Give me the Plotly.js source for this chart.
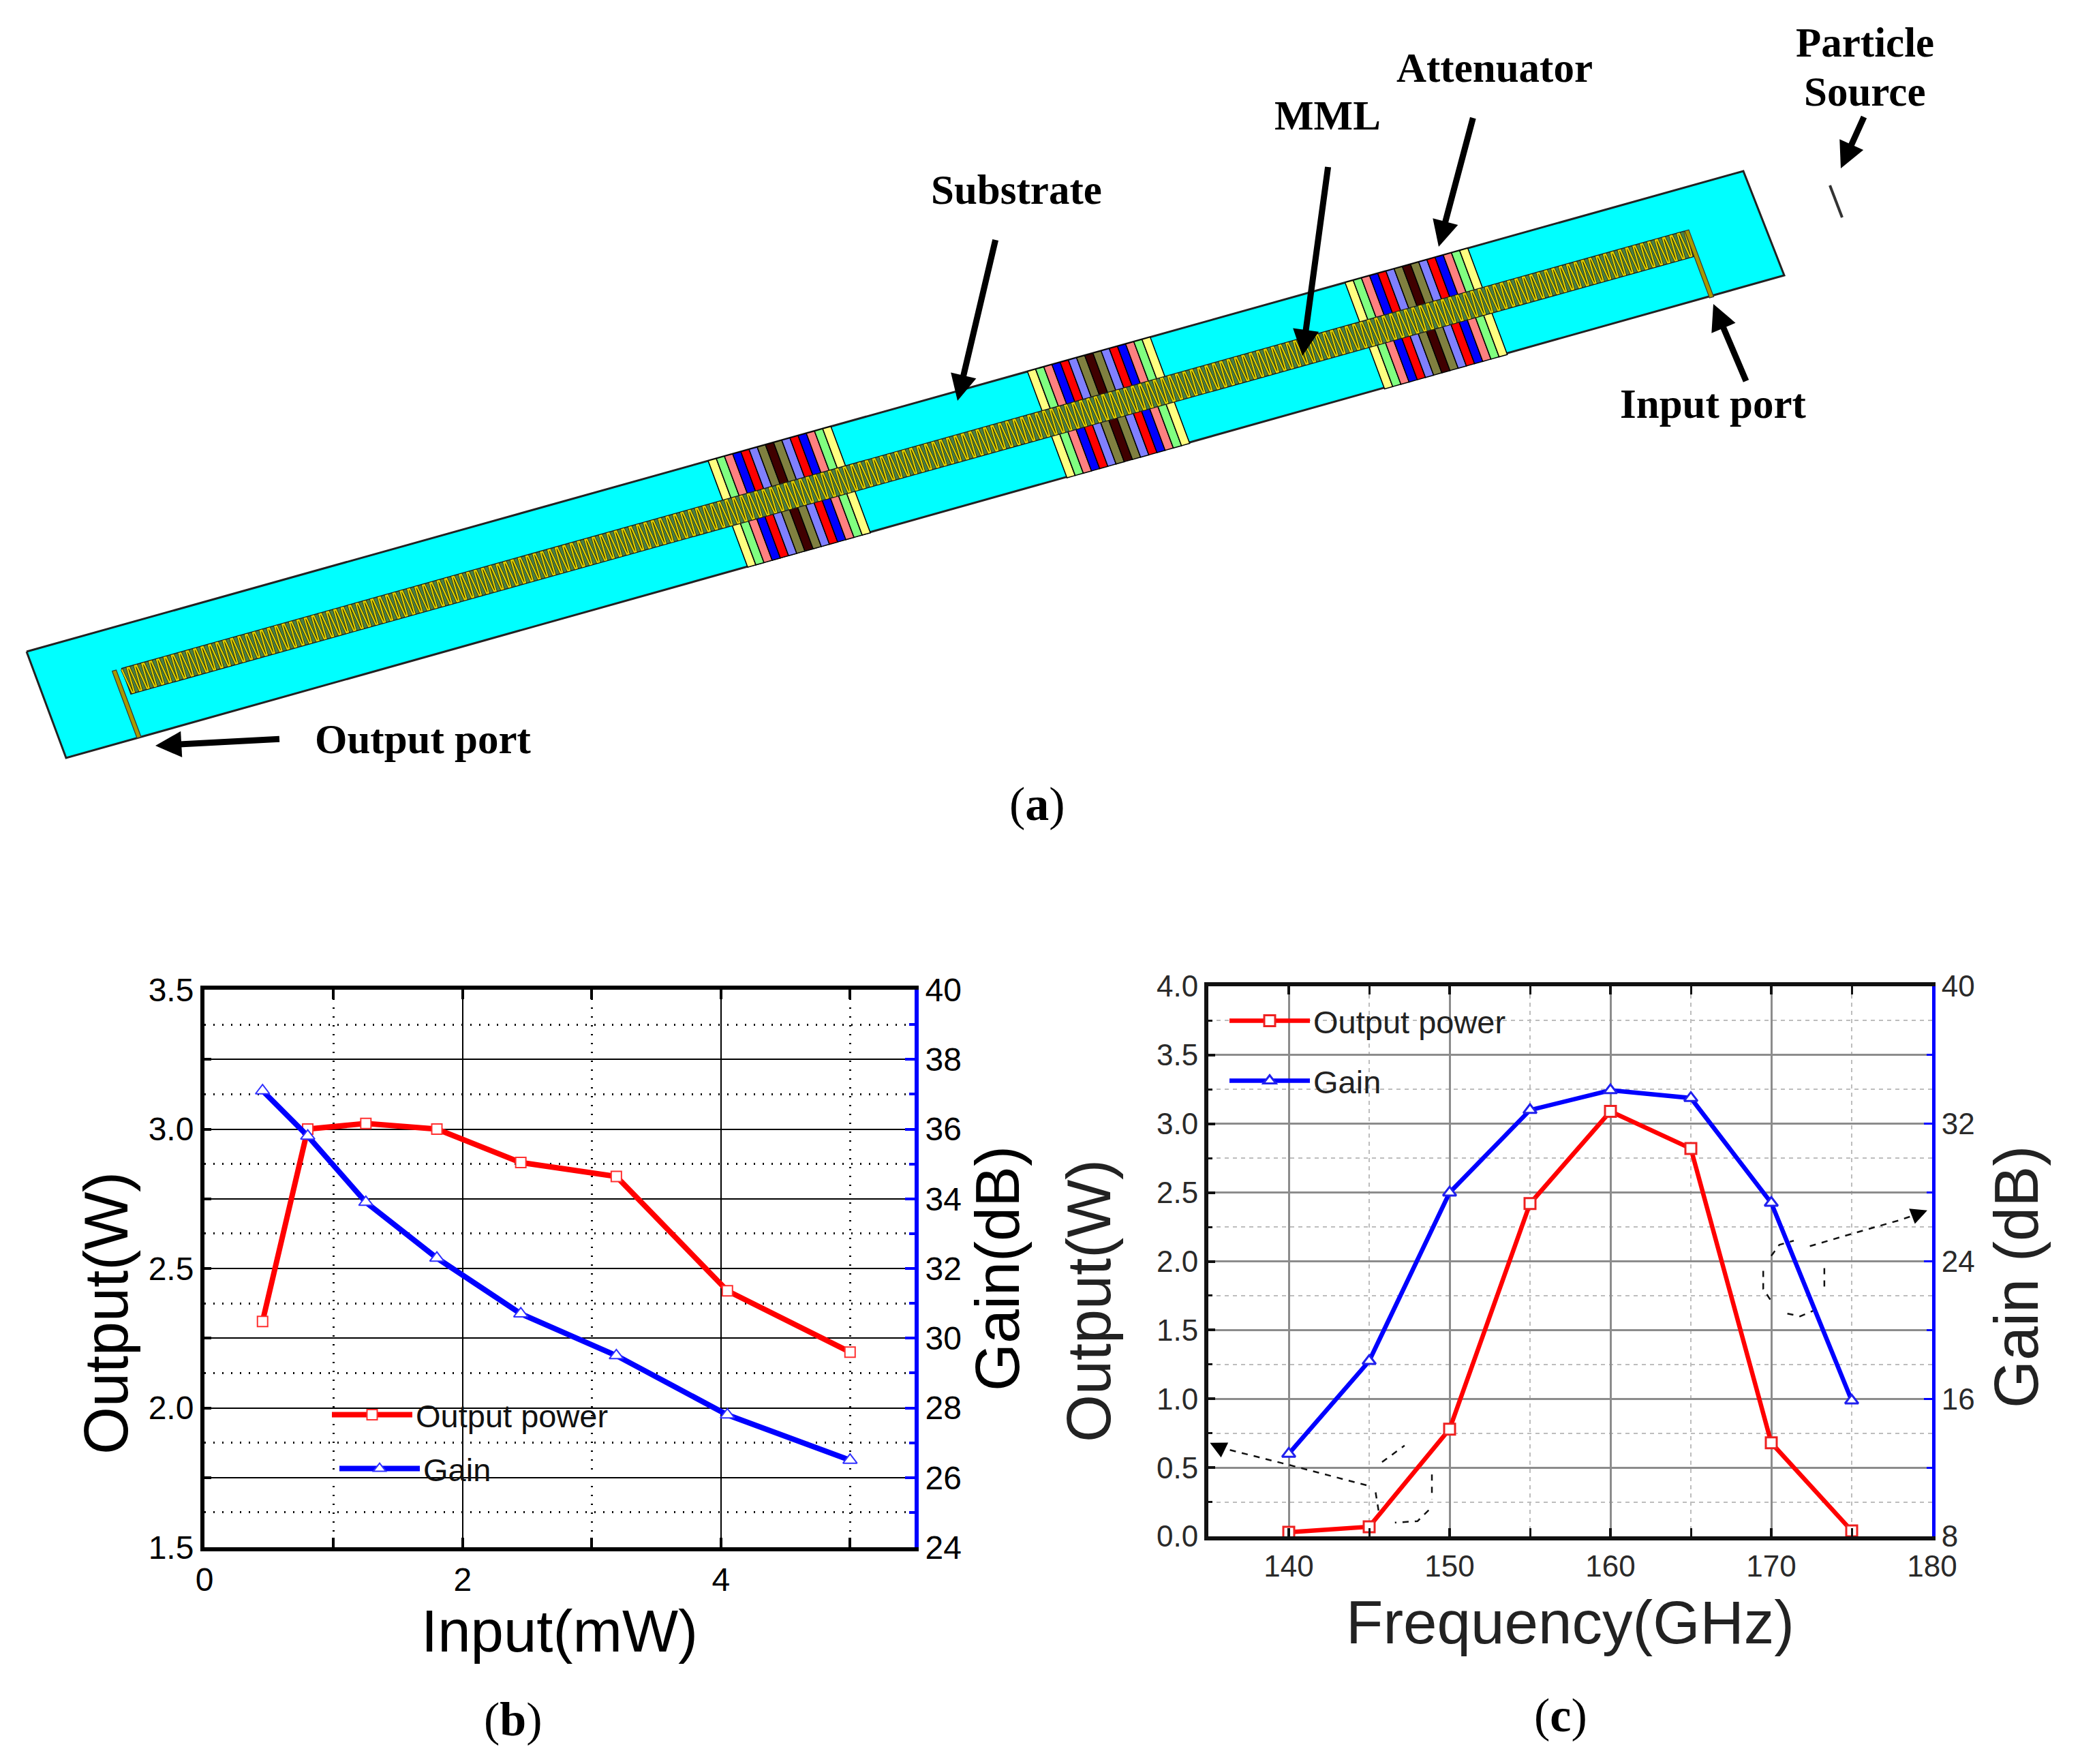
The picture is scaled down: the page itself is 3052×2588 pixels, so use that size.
<!DOCTYPE html>
<html><head><meta charset="utf-8">
<script src="https://cdn.plot.ly/plotly-3.0.1.min.js"></script>
<style>html,body{margin:0;padding:0;background:#fff}</style></head>
<body><div id="chart" style="width:3052px;height:2588px"></div>
<script>
// ---- panel (b) data
const inputMw    = [0.45,0.80,1.25,1.80,2.45,3.19,4.05,5.00];
const bOutput    = [2.31,3.00,3.02,3.00,2.88,2.83,2.42,2.20];
const bGain      = [37.1,35.8,33.9,32.3,30.7,29.5,27.8,26.5];
// ---- panel (c) data
const freqGHz    = [140,145,150,155,160,165,170,175];
const cOutput    = [0.03,0.07,0.78,2.42,3.09,2.82,0.68,0.04];
const cGain      = [12.8,18.2,28.0,32.8,33.95,33.5,27.4,15.9];
// ---- tick labels
const bYTicks    = [1.5,1.75,2,2.25,2.5,2.75,3,3.25,3.5];
const bYText     = ['1.5','','2.0','','2.5','','3.0','','3.5'];
const bYMinor    = [1.625,1.875,2.125,2.375,2.625,2.875,3.125,3.375];
const cYTicks    = [0,0.5,1,1.5,2,2.5,3,3.5,4];
const cYText     = ['0.0','0.5','1.0','1.5','2.0','2.5','3.0','3.5','4.0'];
const cYMinor    = [0.25,0.75,1.25,1.75,2.25,2.75,3.25,3.75];
// ---- dashed callouts of panel (c), in axis units
const cLeftCalloutX  = [135.6,140,145.2];
const cLeftCalloutY  = [0.65,0.52,0.36];
const cLoopAX = [145.8,147.2];
const cLoopAY = [0.54,0.66];
const cLoopA2X = [145.4,145.6];
const cLoopA2Y = [0.32,0.175];
const cLoopBX = [148.9,148.9];
const cLoopBY = [0.45,0.27];
const cLoopCX = [148.7,148.0,146.6];
const cLoopCY = [0.19,0.11,0.10];
const cRightCalloutX = [172.4,175,178,179.0];
const cRightCalloutY = [2.11,2.2,2.3,2.34];
const cLoopDX = [170,170.5,171.4];
const cLoopDY = [2.04,2.12,2.15];
const cLoopEX = [169.5,169.5,170];
const cLoopEY = [1.93,1.8,1.71];
const cLoopFX = [171,171.8,172.6];
const cLoopFY = [1.62,1.6,1.64];
const cLoopGX = [173.3,173.3];
const cLoopGY = [1.95,1.78];
// ---- schematic (a), in page pixels
const substrateX = [39,2558,2618,97];
const substrateY = [956,251,404,1112];
const stripS = [0.0467,0.957];
const stripT = [0.37,0.61];
const portS  = [0.0425,0.9585];
const attenuatorStarts = [0.397,0.583,0.768];
const attenuatorSpan = 0.0715;
const stripeColors = ['#ffff80','#80ff80','#ff8080','#0000ff','#ff0000','#8080ff','#808040','#400000','#808040','#8080ff','#ff0000','#0000ff','#ff8080','#80ff80','#ffff80'];
const particleX = [2685,2703];
const particleY = [272,319];
const labels  = ['Substrate','MML','Attenuator','Particle','Source','Input port','Output port'];
const labelX  = [1491,1948,2193,2736,2736,2514,621];
const labelY  = [278,169,99,62,134,592,1084];
const arrowFromX = [1463,1950,2164,2738,2565,413];
const arrowFromY = [342,235,163,165,566,1084];
const arrowToX   = [1405,1911,2111,2701,2514,228];
const arrowToY   = [588,522,362,247,446,1094];
const panelTags  = ['a','b','c'];
const panelX = [1522,753,2290];
const panelY = [1179,2522,2516];

const W=3052,H=2588;
const px=(a,b)=>[a/W,b/W], py=(top,bot)=>[1-bot/H,1-top/H];
function pt(s,t){return [substrateX[0]+s*(substrateX[1]-substrateX[0])+t*(substrateX[3]-substrateX[0]),
                         substrateY[0]+s*(substrateY[1]-substrateY[0])+t*(substrateY[3]-substrateY[0])];}
function quad(s0,s1,t0,t1){const c=[pt(s0,t0),pt(s1,t0),pt(s1,t1),pt(s0,t1),pt(s0,t0)];return {x:c.map(p=>p[0]),y:c.map(p=>p[1])};}
const traces=[];
function page(o){return Object.assign({xaxis:'x3',yaxis:'y5',showlegend:false,hoverinfo:'skip'},o);}
function fillQuad(q,color,lw,lc){traces.push(page({x:q.x,y:q.y,mode:'lines',fill:'toself',fillcolor:color,line:{color:lc||'#000',width:lw}}));}
// substrate
fillQuad({x:substrateX.concat(substrateX[0]),y:substrateY.concat(substrateY[0])},'#00ffff',3,'#222');
// attenuators
attenuatorStarts.forEach(s0=>{const w=attenuatorSpan/stripeColors.length;
  stripeColors.forEach((c,i)=>fillQuad(quad(s0+i*w,s0+(i+1)*w,0,1),c,1.5));});
// strip under the meander
fillQuad(quad(stripS[0],stripS[1],stripT[0],stripT[1]),'#4a8048',1.5,'#222');
// meander hatch (repeating pattern of the slow-wave line)
const meanderX=[],meanderY=[];
const turnStep=0.00215;
for(let i=0,s=stripS[0];s<stripS[1];i++,s+=turnStep){
  const a=pt(s,i%2?stripT[1]-0.01:stripT[0]+0.01),b=pt(s+turnStep*0.5,i%2?stripT[0]+0.01:stripT[1]-0.01);
  meanderX.push(a[0],b[0]);meanderY.push(a[1],b[1]);
}
traces.push(page({x:meanderX,y:meanderY,mode:'lines',line:{color:'#141400',width:3.6}}));
traces.push(page({x:meanderX,y:meanderY,mode:'lines',line:{color:'#dccc00',width:2.4}}));
// port feed lines
[portS[0],portS[1]].forEach(s=>{fillQuad(quad(s-0.0012,s+0.0012,stripT[0],1),'#a89a00',1.2,'#333');});
// particle source
traces.push(page({x:particleX,y:particleY,mode:'lines',line:{color:'#333',width:4}}));

// panel (b)
traces.push({x:inputMw,y:bOutput,name:'Output power',xaxis:'x',yaxis:'y',legend:'legend',mode:'lines+markers',
  line:{color:'#ff0000',width:8},marker:{symbol:'square',size:15,color:'#fff',line:{color:'#ff3030',width:2}}});
traces.push({x:inputMw,y:bGain,name:'Gain',xaxis:'x',yaxis:'y2',legend:'legend2',mode:'lines+markers',
  line:{color:'#0000ff',width:8},marker:{symbol:'triangle-up',size:18,color:'#fff',line:{color:'#3030ff',width:2}}});
// panel (c) callouts
const dashed={color:'#111',width:2.5,dash:'9px,9px'};
[[cLeftCalloutX,cLeftCalloutY],[cLoopAX,cLoopAY],[cLoopA2X,cLoopA2Y],[cLoopBX,cLoopBY],[cLoopCX,cLoopCY],[cRightCalloutX,cRightCalloutY],
 [cLoopDX,cLoopDY],[cLoopEX,cLoopEY],[cLoopFX,cLoopFY],[cLoopGX,cLoopGY]].forEach(a=>{
  traces.push({x:a[0],y:a[1],xaxis:'x2',yaxis:'y3',mode:'lines',line:dashed,showlegend:false,hoverinfo:'skip'});
});
// panel (c)
traces.push({x:freqGHz,y:cOutput,name:'Output power',xaxis:'x2',yaxis:'y3',legend:'legend3',mode:'lines+markers',
  line:{color:'#ff0000',width:6.5},marker:{symbol:'square',size:16,color:'#fff',line:{color:'#ee2020',width:3}}});
traces.push({x:freqGHz,y:cGain,name:'Gain',xaxis:'x2',yaxis:'y4',legend:'legend4',mode:'lines+markers',
  line:{color:'#0000ff',width:6.5},marker:{symbol:'triangle-up',size:17,color:'#fff',line:{color:'#2020ee',width:3}}});

const sans='"Liberation Sans", Arial, sans-serif', serif='"Liberation Serif", "Times New Roman", serif';
const annos=[];
labels.forEach((t,i)=>annos.push({xref:'x3',yref:'y5',x:labelX[i],y:labelY[i],text:'<b>'+t+'</b>',showarrow:false,
  xanchor:'center',yanchor:'middle',font:{family:serif,size:61,color:'#000'}}));
arrowToX.forEach((x,i)=>annos.push({xref:'x3',yref:'y5',axref:'x3',ayref:'y5',x:x,y:arrowToY[i],ax:arrowFromX[i],ay:arrowFromY[i],
  text:' ',showarrow:true,arrowhead:2,arrowsize:0.85,arrowwidth:9,arrowcolor:'#000'}));
panelTags.forEach((t,i)=>annos.push({xref:'x3',yref:'y5',x:panelX[i],y:panelY[i],text:'(<b>'+t+'</b>)',showarrow:false,
  xanchor:'center',yanchor:'middle',font:{family:serif,size:70,color:'#000'}}));
// dashed callout arrowheads of (c)
annos.push({xref:'x2',yref:'y3',axref:'x2',ayref:'y3',x:135.1,y:0.68,ax:135.8,ay:0.64,text:' ',showarrow:true,arrowhead:2,arrowsize:1.6,arrowwidth:3,arrowcolor:'#000'});
annos.push({xref:'x2',yref:'y3',axref:'x2',ayref:'y3',x:179.7,y:2.37,ax:178.8,ay:2.33,text:' ',showarrow:true,arrowhead:2,arrowsize:1.6,arrowwidth:3,arrowcolor:'#000'});
// axis titles that sit off the centre of their axes in the reference
const vTitles=[['Output(W)',156,1927,'#000'],['Output(W)',1598,1909,'#222'],['Gain (dB)',2959,1874,'#222']];
vTitles.forEach(v=>annos.push({xref:'x3',yref:'y5',x:v[1],y:v[2],text:v[0],textangle:-90,showarrow:false,
  xanchor:'center',yanchor:'middle',font:{family:sans,size:90,color:v[3]}}));

const bTick={family:sans,size:48,color:'#000'}, cTick={family:sans,size:44,color:'#2a2a2a'};
const layout={
  width:W,height:H,margin:{l:0,r:0,t:0,b:0},autosize:false,paper_bgcolor:'#fff',plot_bgcolor:'rgba(0,0,0,0)',
  annotations:annos,
  showlegend:true,
  xaxis:{domain:px(300,1342),range:[0,5.5],anchor:'y',tickvals:[0,2,4],ticktext:['0','2','4'],tickfont:bTick,
    showgrid:true,gridcolor:'#000',gridwidth:2,zeroline:false,showline:true,linecolor:'#000',linewidth:6,mirror:'allticks',
    ticks:'inside',ticklen:14,tickwidth:4,tickcolor:'#000',ticklabelstandoff:0,
    minor:{tickvals:[1,3,5],showgrid:true,gridcolor:'#000',gridwidth:2.5,griddash:'2px,11px',ticks:'inside',ticklen:10,tickwidth:4,tickcolor:'#000'},
    title:{text:'Input(mW)',font:{family:sans,size:87,color:'#000'},standoff:0}},
  yaxis:{domain:py(1452,2270),range:[1.5,3.5],anchor:'x',tickvals:bYTicks,ticktext:bYText,tickfont:bTick,
    showgrid:true,gridcolor:'#000',gridwidth:2,zeroline:false,showline:true,linecolor:'#000',linewidth:6,
    ticks:'inside',ticklen:10,tickwidth:4,tickcolor:'#000',
    minor:{tickvals:bYMinor,showgrid:true,gridcolor:'#000',gridwidth:2.5,griddash:'2px,11px'}},
  yaxis2:{domain:py(1452,2270),range:[24,40],anchor:'x',overlaying:'y',side:'right',tickmode:'linear',tick0:24,dtick:2,tickfont:bTick,
    showgrid:false,zeroline:false,showline:true,linecolor:'#0000ff',linewidth:6,ticks:'inside',ticklen:14,tickwidth:4,tickcolor:'#0000ff',
    minor:{dtick:1,ticks:'inside',ticklen:8,tickwidth:4,tickcolor:'#0000ff'},
    title:{text:'Gain(dB)',font:{family:sans,size:90,color:'#000'},standoff:24}},
  xaxis2:{domain:px(1773,2835),range:[135,180],anchor:'y3',tickmode:'linear',tick0:140,dtick:10,tickfont:cTick,
    showgrid:true,gridcolor:'#8c8c8c',gridwidth:2.5,zeroline:false,showline:true,linecolor:'#111',linewidth:6,mirror:'allticks',
    ticks:'inside',ticklen:12,tickwidth:4,tickcolor:'#111',ticklabelstandoff:0,
    minor:{tickvals:[145,155,165,175],showgrid:true,gridcolor:'#bdbdbd',gridwidth:2,griddash:'6px,6px',ticks:'inside',ticklen:8,tickwidth:3,tickcolor:'#111'},
    title:{text:'Frequency(GHz)',font:{family:sans,size:89,color:'#222'},standoff:30}},
  yaxis3:{domain:py(1447,2254),range:[0,4],anchor:'x2',tickvals:cYTicks,ticktext:cYText,tickfont:cTick,
    showgrid:true,gridcolor:'#8c8c8c',gridwidth:2.5,zeroline:false,showline:true,linecolor:'#111',linewidth:6,
    ticks:'inside',ticklen:10,tickwidth:4,tickcolor:'#111',
    minor:{tickvals:cYMinor,showgrid:true,gridcolor:'#bdbdbd',gridwidth:2,griddash:'6px,6px',ticks:'inside',ticklen:6,tickwidth:3,tickcolor:'#111'}},
  yaxis4:{domain:py(1447,2254),range:[8,40],anchor:'x2',overlaying:'y3',side:'right',tickmode:'linear',tick0:8,dtick:8,tickfont:cTick,
    showgrid:false,zeroline:false,showline:true,linecolor:'#0000ff',linewidth:5,ticks:'inside',ticklen:12,tickwidth:3,tickcolor:'#0000ff',
    minor:{dtick:4,ticks:'inside',ticklen:8,tickwidth:3,tickcolor:'#0000ff'}},
  xaxis3:{domain:[0,1],range:[0,W],anchor:'y5',visible:false,fixedrange:true},
  yaxis5:{domain:[0,1],range:[H,0],anchor:'x3',visible:false,fixedrange:true},
  legend:{x:482/W,y:1-2076/H,xanchor:'left',yanchor:'middle',bgcolor:'rgba(0,0,0,0)',font:{family:sans,size:47,color:'#111'},itemwidth:118,borderwidth:0},
  legend2:{x:493/W,y:1-2155/H,xanchor:'left',yanchor:'middle',bgcolor:'rgba(0,0,0,0)',font:{family:sans,size:47,color:'#111'},itemwidth:118,borderwidth:0},
  legend3:{x:1799/W,y:1-1498/H,xanchor:'left',yanchor:'middle',bgcolor:'rgba(0,0,0,0)',font:{family:sans,size:47,color:'#222'},itemwidth:118,borderwidth:0},
  legend4:{x:1799/W,y:1-1586/H,xanchor:'left',yanchor:'middle',bgcolor:'rgba(0,0,0,0)',font:{family:sans,size:47,color:'#222'},itemwidth:118,borderwidth:0}
};
Plotly.newPlot('chart',traces,layout,{displayModeBar:false,responsive:false});
</script></body></html>
